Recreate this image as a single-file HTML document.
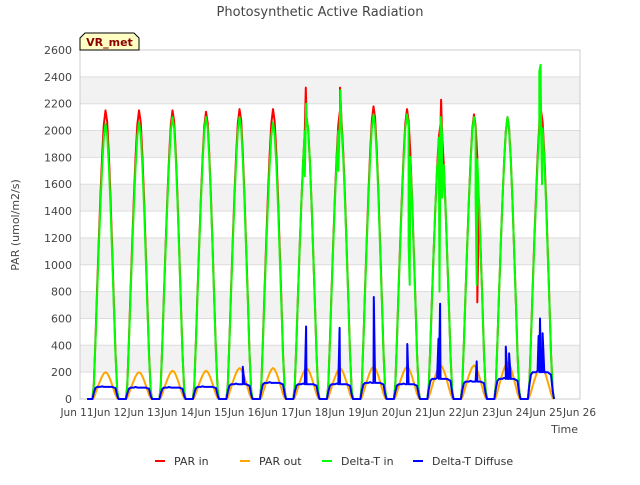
<!DOCTYPE html>
<html><head><meta charset="utf-8"><style>
body{margin:0;background:#fff;font-family:"Liberation Sans","DejaVu Sans",sans-serif}
</style></head><body>
<svg id="c" width="640" height="480" xmlns="http://www.w3.org/2000/svg" font-family="DejaVu Sans, Liberation Sans, sans-serif">
<text x="320" y="16" text-anchor="middle" font-size="13" fill="#444">Photosynthetic Active Radiation</text>
<g id="grid"></g>
<g id="axes"></g>
<g id="series" clip-path="url(#clip)"></g>
<defs><clipPath id="clip"><rect x="80" y="45" width="500" height="356"/></clipPath></defs>
<text transform="translate(19,225) rotate(-90)" text-anchor="middle" font-size="11" fill="#444">PAR (umol/m2/s)</text>
<text x="578" y="433" text-anchor="end" font-size="11" fill="#444">Time</text>
<g>
<path d="M80,50 L80,38 L85,33 L134,33 L139,38 L139,50 Z" fill="#ffffc4" stroke="#000" stroke-width="1"/>
<text x="109.5" y="46" text-anchor="middle" font-size="11" font-weight="bold" fill="#8b0000">VR_met</text>
</g>
<g id="legend"></g>
</svg>
<script>
const yTicks=[0,200,400,600,800,1000,1200,1400,1600,1800,2000,2200,2400,2600];
const xTickDays=[11,12,13,14,15,16,17,18,19,20,21,22,23,24,25,26];
const days=[11,12,13,14,15,16,17,18,19,20,21,22,23,24];
const profileT=[0.46,0.5,0.55,0.6,0.65,0.7,0.75,0.8,0.85,0.9,0.95,1.0,1.05,1.1,1.15,1.2,1.24];
const profileF=[0,0.05,0.2,0.38,0.55,0.7,0.84,0.95,1,0.96,0.85,0.7,0.52,0.34,0.16,0.03,0];
const diffuseF=[0,0.5,0.9,1,1,1,1.05,1,1,1,1,1,1,0.95,0.9,0.3,0];
const parInPeak=[2150,2150,2150,2140,2160,2160,2100,2150,2180,2160,2050,2120,2100,2150];
const deltaInPeak=[2050,2060,2100,2100,2100,2060,2100,2100,2120,2120,2050,2100,2100,2100];
const parOutPeak=[200,200,210,210,230,230,230,230,240,240,250,250,270,250];
const diffuseLevel=[90,85,85,90,110,120,110,110,120,110,150,130,150,200];
const parInSpikes=[[17.83,2320],[18.85,2320],[21.87,2230],[24.83,2320],[22.95,720]];
const deltaSpikes=[[17.8,1660],[17.84,2200],[18.8,1700],[18.86,2300],[20.9,1150],[20.93,850],[21.78,1780],[21.82,800],[21.86,2100],[21.9,1500],[22.9,1500],[22.93,850],[23.92,1900],[24.8,2440],[24.84,2490],[24.88,1600]];
const diffuseSpikes=[[15.95,240],[17.84,540],[18.84,530],[19.86,760],[20.86,410],[21.79,450],[21.84,710],[22.93,280],[23.8,390],[23.9,340],[24.78,470],[24.82,600],[24.86,300],[24.9,490]];

const X0=77,DX=33.5,Y0=399,YT=50,YMAX=2600;
const xs=d=>X0+(d-11)*DX;
const ys=v=>Y0-v/YMAX*(Y0-YT);
const NS="http://www.w3.org/2000/svg";
function mk(tag,attrs,parent){const e=document.createElementNS(NS,tag);for(const k in attrs)e.setAttribute(k,attrs[k]);parent.appendChild(e);return e;}
const grid=document.getElementById('grid'),axes=document.getElementById('axes'),ser=document.getElementById('series'),leg=document.getElementById('legend');
for(let i=0;i<yTicks.length-1;i++){
  if(i%2===1){const r=mk('rect',{x:80,y:ys(yTicks[i+1]),width:500,height:ys(yTicks[i])-ys(yTicks[i+1]),fill:'#f2f2f2'},grid);
  
  }
}
yTicks.forEach(v=>{
  const l=mk('line',{x1:80,x2:580,y1:ys(v),y2:ys(v),stroke:'#dddddd','stroke-width':1},grid);
  
  
  const t=mk('text',{x:72,y:ys(v)+4,'text-anchor':'end','font-size':11,fill:'#444'},axes);
  
  
  t.textContent=v;
});
const fr=mk('rect',{x:80,y:50,width:500,height:349,fill:'none',stroke:'#cccccc'},axes);


xTickDays.forEach(d=>{
  const t=mk('text',{x:xs(d),y:416,'text-anchor':'middle','font-size':10.5,fill:'#444'},axes);
  
  
  t.textContent='Jun '+d;
});
function build(peaks,frac,spikes){
  let pts=[];
  days.forEach((d,i)=>{profileT.forEach((o,j)=>pts.push([d+o,peaks[i]*frac[j]]));});
  spikes.forEach(s=>pts.push(s));
  pts.sort((a,b)=>a[0]-b[0]);
  pts.unshift([11.3,0]);
  return pts;
}
function draw(pts,color,name,w){
  const p=mk('path',{d:'M'+pts.map(q=>xs(q[0]).toFixed(1)+','+ys(q[1]).toFixed(1)).join('L'),fill:'none',stroke:color,'stroke-width':w,'stroke-linejoin':'round'},ser);
  
  
}
draw(build(parInPeak,profileF,parInSpikes),'#ff0000','par-in-line',2);
draw(build(parOutPeak,profileF,[]),'#ffa500','par-out-line',2);
draw(build(deltaInPeak,profileF,deltaSpikes),'#00ff00','delta-t-in-line',2);
draw(build(diffuseLevel,diffuseF,diffuseSpikes),'#0000ff','delta-t-diffuse-line',2);
const legItems=[['PAR in','#ff0000',155],['PAR out','#ffa500',240],['Delta-T in','#00ff00',322],['Delta-T Diffuse','#0000ff',413]];
legItems.forEach(it=>{
  const g=mk('g',{},leg);
  
  
  mk('line',{x1:it[2],x2:it[2]+10,y1:461,y2:461,stroke:it[1],'stroke-width':2},g);
  const t=mk('text',{x:it[2]+19,y:465,'font-size':11,fill:'#333'},g);
  t.textContent=it[0];
});
</script>
</body></html>
